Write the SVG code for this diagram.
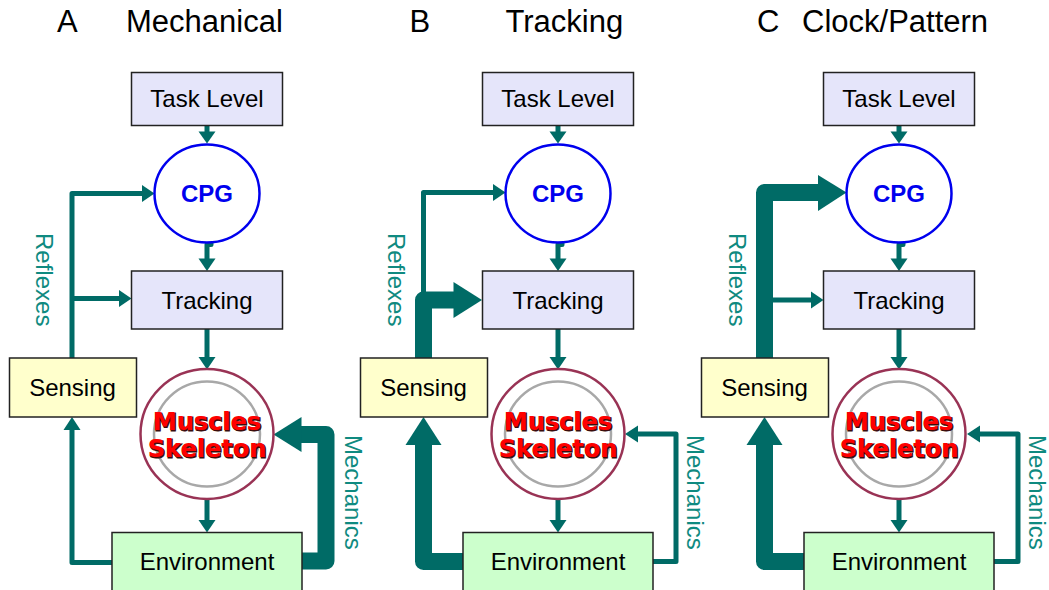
<svg xmlns="http://www.w3.org/2000/svg" width="1049" height="590" viewBox="0 0 1049 590">
  <style>
    .title { font-family: "Liberation Sans", Arial, sans-serif; font-size: 31px; fill: #000; }
    .lbl { font-family: "Liberation Sans", Arial, sans-serif; font-size: 24px; fill: #000; text-anchor: middle; }
    .cpgt { font-family: "Liberation Sans", Arial, sans-serif; font-size: 24px; font-weight: bold; fill: #0000ee; text-anchor: middle; }
    .mus { font-family: "DejaVu Sans", Verdana, sans-serif; font-size: 24px; font-weight: bold; fill: #ff0000; text-anchor: middle; }
    .mush { font-family: "DejaVu Sans", Verdana, sans-serif; font-size: 24px; font-weight: bold; fill: #3a0a0a; stroke: #3a0a0a; stroke-width: 1; text-anchor: middle; }
    .side { font-family: "Liberation Sans", Arial, sans-serif; font-size: 24px; fill: #0f8a80; }
    .blue { fill: #e5e5fa; stroke: #222; stroke-width: 1.5; }
    .yel { fill: #ffffcc; stroke: #222; stroke-width: 1.5; }
    .grn { fill: #ccffcc; stroke: #222; stroke-width: 1.5; }
    .cpg { fill: #fff; stroke: #0000ee; stroke-width: 2.5; }
    .mo { fill: #fff; stroke: #993355; stroke-width: 2.5; }
    .mi { fill: none; stroke: #a8a8a8; stroke-width: 2.5; }
    .thin { fill: none; stroke: #006b66; stroke-width: 5; stroke-linejoin: round; }
    .thick { fill: none; stroke: #006b66; stroke-width: 17; stroke-linejoin: round; }
    .head { fill: #006b66; }
  </style>

  <!-- panel titles -->
  <g id="titles">
    <text class="title" x="57" y="31.5">A</text>
    <text class="title" x="126" y="31.5">Mechanical</text>
    <text class="title" x="409.5" y="31.5">B</text>
    <text class="title" x="505.5" y="31.5">Tracking</text>
    <text class="title" x="757" y="31.5">C</text>
    <text class="title" x="802" y="31.5">Clock/Pattern</text>
  </g>

  <!-- ===== Panel A: Mechanical ===== -->
  <g id="a-connectors">
    <path class="thin" d="M207 125 V132"/>
    <polygon class="head" points="198.5,131.5 215.5,131.5 207,143.5"/>
    <path class="thin" d="M211 242 V244.5 H207 V259"/>
    <polygon class="head" points="198.5,258.5 215.5,258.5 207,271"/>
    <path class="thin" d="M207 329 V358"/>
    <polygon class="head" points="198.5,357 215.5,357 207,369.5"/>
    <path class="thin" d="M207 499 V521"/>
    <polygon class="head" points="198.5,520 215.5,520 207,532.5"/>
    <path class="thin" d="M72 358 V193.5 H143"/>
    <polygon class="head" points="142,185 142,202 154.5,193.5"/>
    <path class="thin" d="M72 298.5 H120"/>
    <polygon class="head" points="119,290 119,307 131.5,298.5"/>
    <path class="thin" d="M112 562.5 H72 V429"/>
    <polygon class="head" points="63.5,430 80.5,430 72,417"/>
    <path class="thick" d="M302 561 H326 V434.5 H300"/>
    <polygon class="head" points="301.5,417 301.5,452 273.5,434.5"/>
  </g>
  <g id="a-labels">
    <text class="side" transform="translate(35.5,233) rotate(90)">Reflexes</text>
    <text class="side" transform="translate(345,435) rotate(90)">Mechanics</text>
  </g>
  <g id="a-task"><rect class="blue" x="131.5" y="72.5" width="151" height="53"/><text class="lbl" x="207" y="106.5">Task Level</text></g>
  <g id="a-cpg"><ellipse class="cpg" cx="207" cy="193.5" rx="52.5" ry="49"/><text class="cpgt" x="207" y="201.5">CPG</text></g>
  <g id="a-tracking"><rect class="blue" x="131.5" y="271" width="151" height="58"/><text class="lbl" x="207" y="309">Tracking</text></g>
  <g id="a-sensing"><rect class="yel" x="9.5" y="358" width="127" height="59"/><text class="lbl" x="72.5" y="396">Sensing</text></g>
  <g id="a-muscles">
    <ellipse class="mo" cx="207" cy="434" rx="66.5" ry="65"/>
    <ellipse class="mi" cx="207" cy="434" rx="53" ry="52.5"/>
    <text class="mush" x="208" y="431">Muscles</text>
    <text class="mush" x="208" y="458">Skeleton</text>
    <text class="mus" x="207" y="430">Muscles</text>
    <text class="mus" x="207" y="457">Skeleton</text>
  </g>
  <g id="a-environment"><rect class="grn" x="112" y="532.5" width="190" height="70"/><text class="lbl" x="207" y="570">Environment</text></g>

  <!-- ===== Panel B: Tracking ===== -->
  <g id="b-connectors">
    <path class="thin" d="M558 125 V132"/>
    <polygon class="head" points="549.5,131.5 566.5,131.5 558,143.5"/>
    <path class="thin" d="M562 242 V244.5 H558 V259"/>
    <polygon class="head" points="549.5,258.5 566.5,258.5 558,271"/>
    <path class="thin" d="M558 329 V358"/>
    <polygon class="head" points="549.5,357 566.5,357 558,369.5"/>
    <path class="thin" d="M558 499 V521"/>
    <polygon class="head" points="549.5,520 566.5,520 558,532.5"/>
    <path class="thin" d="M423.5 300 V192.5 H494"/>
    <polygon class="head" points="493,184 493,201 505.5,192.5"/>
    <path class="thick" d="M423.5 358 V300 H455"/>
    <polygon class="head" points="453.5,282 453.5,318 482,300"/>
    <path class="thick" d="M463 561.5 H423.5 V444"/>
    <polygon class="head" points="405.5,445 441.5,445 423.5,417"/>
    <path class="thin" d="M653 561.5 H676 V434 H637"/>
    <polygon class="head" points="638,425.5 638,442.5 625,434"/>
  </g>
  <g id="b-labels">
    <text class="side" transform="translate(387.5,233) rotate(90)">Reflexes</text>
    <text class="side" transform="translate(687,435) rotate(90)">Mechanics</text>
  </g>
  <g id="b-task"><rect class="blue" x="482.5" y="72.5" width="151" height="53"/><text class="lbl" x="558" y="106.5">Task Level</text></g>
  <g id="b-cpg"><ellipse class="cpg" cx="558" cy="193.5" rx="52.5" ry="49"/><text class="cpgt" x="558" y="201.5">CPG</text></g>
  <g id="b-tracking"><rect class="blue" x="482.5" y="271" width="151" height="58"/><text class="lbl" x="558" y="309">Tracking</text></g>
  <g id="b-sensing"><rect class="yel" x="360.5" y="358" width="127" height="59"/><text class="lbl" x="423.5" y="396">Sensing</text></g>
  <g id="b-muscles">
    <ellipse class="mo" cx="558" cy="434" rx="66.5" ry="65"/>
    <ellipse class="mi" cx="558" cy="434" rx="53" ry="52.5"/>
    <text class="mush" x="559" y="431">Muscles</text>
    <text class="mush" x="559" y="458">Skeleton</text>
    <text class="mus" x="558" y="430">Muscles</text>
    <text class="mus" x="558" y="457">Skeleton</text>
  </g>
  <g id="b-environment"><rect class="grn" x="463" y="532.5" width="190" height="70"/><text class="lbl" x="558" y="570">Environment</text></g>

  <!-- ===== Panel C: Clock/Pattern ===== -->
  <g id="c-connectors">
    <path class="thin" d="M899 125 V132"/>
    <polygon class="head" points="890.5,131.5 907.5,131.5 899,143.5"/>
    <path class="thin" d="M903 242 V244.5 H899 V259"/>
    <polygon class="head" points="890.5,258.5 907.5,258.5 899,271"/>
    <path class="thin" d="M899 329 V358"/>
    <polygon class="head" points="890.5,357 907.5,357 899,369.5"/>
    <path class="thin" d="M899 499 V521"/>
    <polygon class="head" points="890.5,520 907.5,520 899,532.5"/>
    <path class="thin" d="M764.5 300 H812"/>
    <polygon class="head" points="811,291.5 811,308.5 823.5,300"/>
    <path class="thick" d="M764.5 358 V192.5 H819"/>
    <polygon class="head" points="818,175 818,211 846.5,192.5"/>
    <path class="thick" d="M804 561.5 H764.5 V444"/>
    <polygon class="head" points="746.5,445 782.5,445 764.5,417"/>
    <path class="thin" d="M994 561.5 H1018 V434 H979"/>
    <polygon class="head" points="980,425.5 980,442.5 967,434"/>
  </g>
  <g id="c-labels">
    <text class="side" transform="translate(728.5,233) rotate(90)">Reflexes</text>
    <text class="side" transform="translate(1029,435) rotate(90)">Mechanics</text>
  </g>
  <g id="c-task"><rect class="blue" x="823.5" y="72.5" width="151" height="53"/><text class="lbl" x="899" y="106.5">Task Level</text></g>
  <g id="c-cpg"><ellipse class="cpg" cx="899" cy="193.5" rx="52.5" ry="49"/><text class="cpgt" x="899" y="201.5">CPG</text></g>
  <g id="c-tracking"><rect class="blue" x="823.5" y="271" width="151" height="58"/><text class="lbl" x="899" y="309">Tracking</text></g>
  <g id="c-sensing"><rect class="yel" x="701.5" y="358" width="127" height="59"/><text class="lbl" x="764.5" y="396">Sensing</text></g>
  <g id="c-muscles">
    <ellipse class="mo" cx="899" cy="434" rx="66.5" ry="65"/>
    <ellipse class="mi" cx="899" cy="434" rx="53" ry="52.5"/>
    <text class="mush" x="900" y="431">Muscles</text>
    <text class="mush" x="900" y="458">Skeleton</text>
    <text class="mus" x="899" y="430">Muscles</text>
    <text class="mus" x="899" y="457">Skeleton</text>
  </g>
  <g id="c-environment"><rect class="grn" x="804" y="532.5" width="190" height="70"/><text class="lbl" x="899" y="570">Environment</text></g>
</svg>
